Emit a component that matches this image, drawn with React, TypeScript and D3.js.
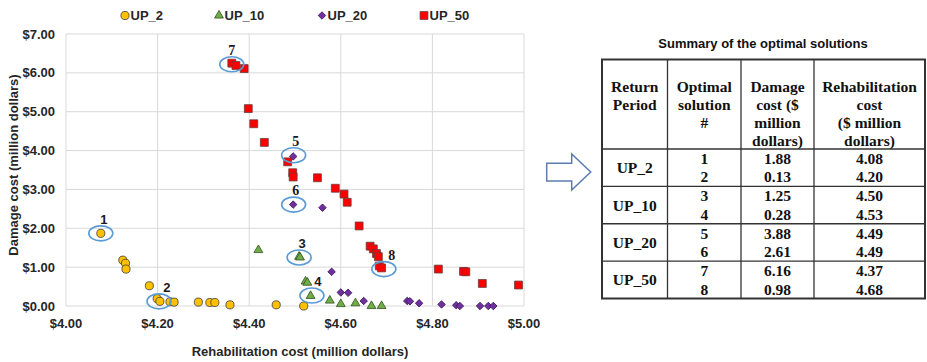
import { useEffect } from 'react'
import * as d3 from 'd3'

// scatter series: rehabilitation cost (x, $ million) vs damage cost (y, $ million)
const up2X = [4.076, 4.124, 4.13, 4.131, 4.182, 4.199, 4.205, 4.227, 4.236, 4.289, 4.314, 4.325, 4.358, 4.459, 4.519]
const up2Y = [1.87, 1.18, 1.1, 0.95, 0.52, 0.19, 0.12, 0.11, 0.1, 0.1, 0.09, 0.09, 0.03, 0.03, 0.0]

const up10X = [4.42, 4.509, 4.511, 4.523, 4.527, 4.534, 4.576, 4.6, 4.632, 4.667, 4.689]
const up10Y = [1.44, 1.27, 1.25, 0.63, 0.6, 0.26, 0.14, 0.05, 0.07, 0.0, 0.0]

const up20X = [4.496, 4.496, 4.56, 4.58, 4.6, 4.616, 4.65, 4.745, 4.751, 4.771, 4.82, 4.852, 4.86, 4.904, 4.922, 4.933]
const up20Y = [3.85, 2.61, 2.53, 0.88, 0.35, 0.34, 0.13, 0.13, 0.12, 0.07, 0.04, 0.02, 0.0, 0.0, 0.0, 0.0]

const up50X = [4.362, 4.371, 4.389, 4.398, 4.41, 4.433, 4.484, 4.495, 4.496, 4.549, 4.588, 4.607, 4.614, 4.64, 4.664, 4.671, 4.678, 4.682, 4.684, 4.689, 4.813, 4.868, 4.873, 4.909, 4.988]
const up50Y = [6.25, 6.19, 6.11, 5.08, 4.69, 4.21, 3.71, 3.43, 3.32, 3.3, 3.03, 2.88, 2.67, 2.06, 1.54, 1.47, 1.35, 1.27, 1.03, 0.98, 0.95, 0.89, 0.88, 0.58, 0.54]

const seriesNames = ['UP_2', 'UP_10', 'UP_20', 'UP_50']

// circled optimal solutions
const solutionIds = ['1', '2', '3', '4', '5', '6', '7', '8']
const solutionX = [4.076, 4.203, 4.509, 4.537, 4.497, 4.497, 4.362, 4.694]
const solutionY = [1.87, 0.12, 1.25, 0.27, 3.88, 2.61, 6.22, 0.95]

const xTicks = [4.0, 4.2, 4.4, 4.6, 4.8, 5.0]
const yTicks = [0, 1, 2, 3, 4, 5, 6, 7]

// summary table
const tableTitle = 'Summary of the optimal solutions'
const headReturn = ['Return', 'Period']
const headSolution = ['Optimal', 'solution', '#']
const headDamage = ['Damage', 'cost ($', 'million', 'dollars)']
const headRehab = ['Rehabilitation', 'cost', '($ million', 'dollars)']
const tableGroups = ['UP_2', 'UP_10', 'UP_20', 'UP_50']
const tableSolution = ['1', '2', '3', '4', '5', '6', '7', '8']
const tableDamage = ['1.88', '0.13', '1.25', '0.28', '3.88', '2.61', '6.16', '0.98']
const tableRehab = ['4.08', '4.20', '4.50', '4.53', '4.49', '4.49', '4.37', '4.68']

const SANS = '"Liberation Sans", Arial, sans-serif'
const SERIF = '"Liberation Serif", "Times New Roman", serif'

const markerStyle = [
  { type: d3.symbolCircle, size: 52, fill: '#ffc000', stroke: '#3b3b3b', rot: 0 },
  { type: d3.symbolTriangle, size: 34, fill: '#70ad47', stroke: '#2f4f1f', rot: 0 },
  { type: d3.symbolSquare, size: 28, fill: '#7030a0', stroke: '#3a1656', rot: 45 },
  { type: d3.symbolSquare, size: 62, fill: '#ff0000', stroke: '#6b3a3a', rot: 0 },
]
const labelDx = [3, 8, 3, 6, 2, 2, 0, 8]

export default function App() {
  useEffect(() => {
    document.body.style.margin = '0'
  }, [])

  const x = d3.scaleLinear().domain([4, 5]).range([66, 524])
  const y = d3.scaleLinear().domain([0, 7]).range([306, 34])

  const seriesX = [up2X, up10X, up20X, up50X]
  const seriesY = [up2Y, up10Y, up20Y, up50Y]
  const sym = seriesNames.map((_, i) => d3.symbol().type(markerStyle[i].type).size(markerStyle[i].size)())
  const legendX = [125, 219, 322, 424]

  // table geometry
  const tL = 602, tR = 925, tT = 59.5, tHead = 149, tB = 298.5
  const colX = [602, 667.5, 741, 814, 925]
  const colC = colX.slice(0, 4).map((c, i) => (c + colX[i + 1]) / 2)
  const groupH = (tB - tHead) / tableGroups.length
  const headLines = [headReturn, headSolution, headDamage, headRehab]

  return (
    <svg width={927} height={362} style={{ display: 'block', background: '#fff' }}>
      {/* gridlines */}
      <g stroke="#d9d9d9" strokeWidth={1}>
        {xTicks.map(t => <line key={'gx' + t} x1={x(t)} x2={x(t)} y1={y(7)} y2={y(0)} />)}
        {yTicks.map(t => <line key={'gy' + t} x1={x(4)} x2={x(5)} y1={y(t)} y2={y(t)} />)}
      </g>
      {/* tick labels */}
      <g fontFamily={SANS} fontWeight="bold" fontSize={13} fill="#262626">
        {yTicks.map(t => (
          <text key={'ty' + t} x={55} y={y(t)} textAnchor="end" dominantBaseline="central">{d3.format('$.2f')(t)}</text>
        ))}
        {xTicks.map(t => (
          <text key={'tx' + t} x={x(t)} y={323} textAnchor="middle" dominantBaseline="central">{d3.format('$.2f')(t)}</text>
        ))}
        <text x={300} y={351} textAnchor="middle" dominantBaseline="central">Rehabilitation cost (million dollars)</text>
        <text transform="translate(13,165) rotate(-90)" textAnchor="middle" dominantBaseline="central">Damage cost (million dollars)</text>
      </g>
      {/* markers */}
      {seriesNames.map((name, si) => (
        <g key={name} fill={markerStyle[si].fill} stroke={markerStyle[si].stroke} strokeWidth={0.8}>
          {seriesX[si].map((v, i) => (
            <path key={i} d={sym[si] ?? ''} transform={`translate(${x(v)},${y(seriesY[si][i])}) rotate(${markerStyle[si].rot})`} />
          ))}
        </g>
      ))}
      {/* solution ellipses and labels */}
      {solutionIds.map((id, i) => (
        <g key={'s' + id}>
          <ellipse cx={x(solutionX[i])} cy={y(solutionY[i])} rx={12} ry={7.5} fill="none" stroke="#5b9bd5" strokeWidth={1.6} />
          <text x={x(solutionX[i]) + labelDx[i]} y={y(solutionY[i]) - 14} textAnchor="middle" dominantBaseline="central"
            fontFamily={i < 4 ? SANS : SERIF} fontWeight="bold" fontSize={i < 4 ? 13 : 14} fill="#1a1a1a">{id}</text>
        </g>
      ))}
      {/* legend */}
      <g fontFamily={SANS} fontWeight="bold" fontSize={13} fill="#262626">
        {seriesNames.map((name, si) => (
          <g key={'lg' + name}>
            <path d={sym[si] ?? ''} transform={`translate(${legendX[si]},15.5) rotate(${markerStyle[si].rot})`}
              fill={markerStyle[si].fill} stroke={markerStyle[si].stroke} strokeWidth={0.8} />
            <text x={legendX[si] + 5.5} y={15.5} dominantBaseline="central">{name}</text>
          </g>
        ))}
      </g>
      {/* arrow */}
      <path d="M546.7,163.3 L571.7,163.3 L571.7,154 L590.7,172 L571.7,190 L571.7,181 L546.7,181 Z"
        fill="#fff" stroke="#5b7db1" strokeWidth={1.5} />
      {/* table */}
      <text x={763} y={43} textAnchor="middle" dominantBaseline="central" fontFamily={SANS} fontWeight="bold" fontSize={13} fill="#111">{tableTitle}</text>
      <g stroke="#333" fill="none">
        <rect x={tL} y={tT} width={tR - tL} height={tB - tT} strokeWidth={2} />
        {colX.slice(1, 4).map(c => <line key={'c' + c} x1={c} x2={c} y1={tT} y2={tB} strokeWidth={1.3} />)}
        {[0, 1, 2, 3].map(g => (
          <line key={'r' + g} x1={tL} x2={tR} y1={tHead + g * groupH} y2={tHead + g * groupH} strokeWidth={1.3} />
        ))}
      </g>
      <g fontFamily={SERIF} fontWeight="bold" fontSize={15.5} fill="#111" textAnchor="middle">
        {headLines.map((lines, ci) => lines.map((s, li) => (
          <text key={'h' + ci + li} x={colC[ci]} y={86.7 + li * 17.8} dominantBaseline="central">{s}</text>
        )))}
        {tableGroups.map((g, gi) => (
          <text key={'g' + g} x={colC[0]} y={tHead + (gi + 0.5) * groupH} dominantBaseline="central">{g}</text>
        ))}
        {tableSolution.map((s, ri) => {
          const gi = Math.floor(ri / 2)
          const cy = tHead + gi * groupH + groupH / 2 + (ri % 2 === 0 ? -9.2 : 9.2)
          return (
            <g key={'row' + s}>
              <text x={colC[1]} y={cy} dominantBaseline="central">{s}</text>
              <text x={colC[2]} y={cy} dominantBaseline="central">{tableDamage[ri]}</text>
              <text x={colC[3]} y={cy} dominantBaseline="central">{tableRehab[ri]}</text>
            </g>
          )
        })}
      </g>
    </svg>
  )
}
